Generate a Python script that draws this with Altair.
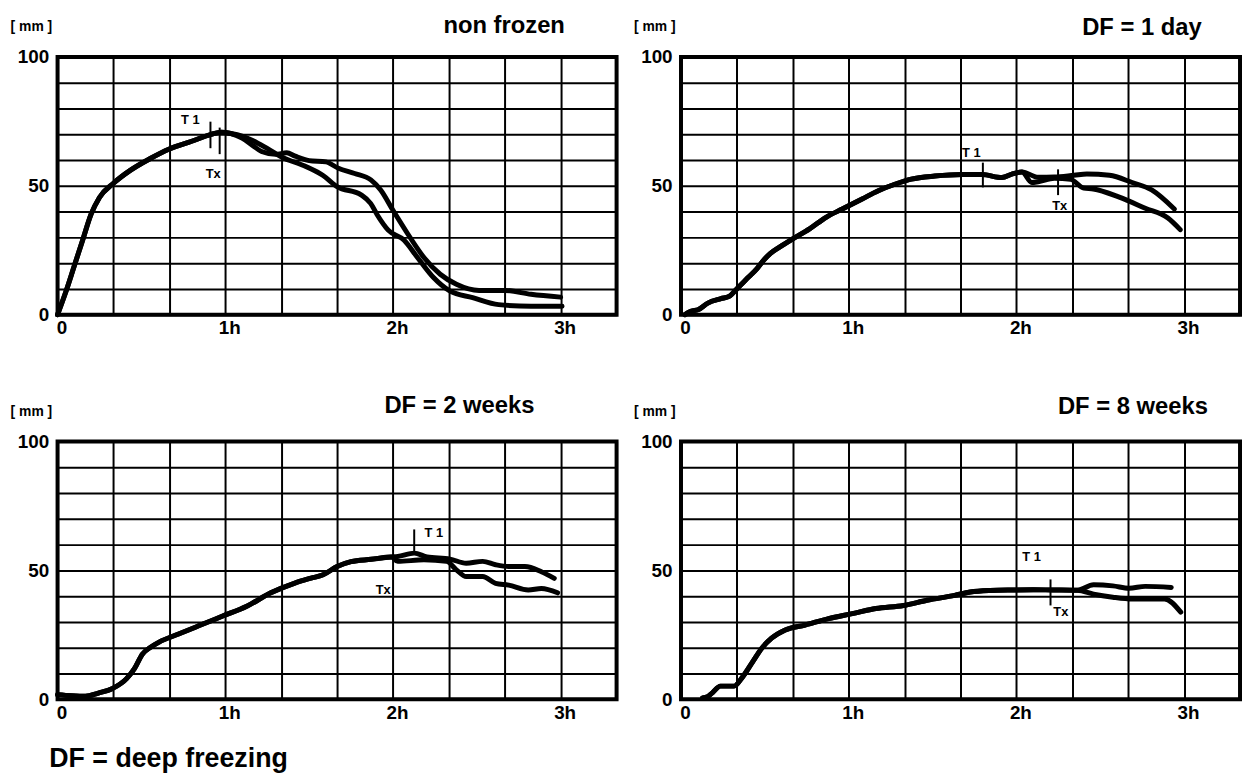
import altair as alt
import pandas as pd

FONT = "Liberation Sans"
W, H = 564, 260

# grid positions: x in minutes (every 20 min), y in mm (every 10 mm)
X_GRID = list(range(0, 201, 20))
Y_GRID = list(range(0, 101, 10))

# ---------------- Panel 1: non frozen ----------------
P1_SHARED_T = [0, 3, 6, 9, 12, 15, 20, 26, 33, 40, 48, 55, 58.5]
P1_SHARED_V = [0, 9, 19, 29, 39, 45.5, 51, 56, 60.5, 64.3, 67.3, 70, 70.8]
P1_A_T = [62, 66, 70, 73, 78, 82, 85, 90, 96, 100.5, 106.3, 112.1, 115.6, 120, 125.2, 131, 136.9, 142.7, 150.8, 160.1, 169.4, 180]
P1_A_V = [70.3, 68.5, 65.5, 63.3, 62.2, 62.8, 61.5, 59.8, 59.3, 56.8, 54.8, 52.3, 48.4, 40.5, 31.5, 22.3, 15.7, 11.8, 9.4, 9.4, 7.9, 6.8]
P1_B_T = [62, 66, 70, 75, 80, 89, 95, 100, 108.6, 112, 114.4, 118.3, 124, 128.7, 134.5, 140.3, 148.5, 157.8, 169.4, 180.5]
P1_B_V = [70.3, 69.3, 67.5, 64.5, 61.3, 57.4, 54, 49.7, 46.5, 43.2, 38.7, 32.8, 28.9, 22.3, 14.4, 9.2, 6.6, 3.9, 3.3, 3.3]

# ---------------- Panel 2: DF = 1 day ----------------
P2_SHARED_T = [1.4, 3.5, 6.1, 9.6, 14.3, 17.2, 20.2, 23.7, 27.2, 29.6, 31.9, 35.4, 40.1, 46, 51.9, 57.7, 64.8, 70.6, 76.5, 82.4, 90.8, 100.7, 107.7, 114.8, 118.6, 122]
P2_SHARED_V = [0, 1.3, 1.9, 4.5, 6.2, 7.1, 10.3, 14.1, 17.9, 21.2, 23.7, 26.3, 29.5, 33.3, 37.8, 41, 44.9, 48.1, 50.6, 52.6, 53.8, 54.4, 54.4, 53.2, 54.6, 55.4]
P2_A_T = [127.8, 133.6, 140.6, 145.2, 153.3, 161.4, 168.4, 176.5]
P2_A_V = [53.3, 53.4, 54.1, 54.6, 54.1, 51.3, 48.4, 41]
P2_B_T = [125.5, 127.8, 133.6, 139.4, 144.1, 147.5, 156.8, 166.1, 174.2, 178.6]
P2_B_V = [51.3, 51.6, 52.9, 52.5, 49.1, 48.8, 45.6, 41.3, 37.5, 33]

# ---------------- Panel 3: DF = 2 weeks ----------------
P3_SHARED_T = [0, 5, 10, 14.6, 19.7, 24.7, 27.5, 30.4, 33.3, 36.2, 43.3, 50.5, 59.1, 67.7, 76.3, 84.9, 90.7, 95, 100, 105, 112.2, 119.4]
P3_SHARED_V = [1.8, 1.4, 1.2, 2.4, 4.2, 8.0, 11.9, 17.6, 20.2, 22.1, 25.3, 28.5, 32.3, 36.1, 41.3, 45.1, 47, 48.3, 51.5, 53.4, 54.3, 55.2]
P3_A_T = [121.7, 127.6, 132.2, 140.4, 146.2, 152.1, 156.7, 161.4, 167.2, 173.1, 177.7]
P3_A_V = [55.4, 56.7, 55.2, 54.4, 52.8, 53.5, 52.2, 51.5, 51.5, 49.5, 46.9]
P3_B_T = [121.7, 131.1, 139.2, 142.7, 146.2, 152.1, 156.7, 161.4, 168.4, 173.1, 178.9]
P3_B_V = [53.5, 54.1, 53.5, 50.2, 47.6, 47.6, 45, 44.3, 42.4, 43, 41.3]

# ---------------- Panel 4: DF = 8 weeks ----------------
P4_SHARED_T = [7.7, 9.5, 11.3, 14.1, 19, 21.8, 25.4, 28.9, 32.4, 37.3, 44.4, 52.8, 61.3, 69.7, 79.6, 88, 97.9, 103.5, 110.6, 119, 126, 133, 141.8]
P4_SHARED_V = [0.5, 1, 2.6, 5.1, 5.1, 8.3, 14.1, 19.8, 23.7, 26.9, 28.8, 31.3, 33.2, 35.2, 36.4, 38.4, 40.3, 41.6, 42.2, 42.4, 42.5, 42.4, 42.3]
P4_A_T = [147.6, 154.5, 160.3, 166.1, 175.4]
P4_A_V = [44.4, 44, 43.1, 43.8, 43.4]
P4_B_T = [147.6, 154.5, 161.5, 173, 178.8]
P4_B_V = [40.8, 39.6, 38.9, 38.9, 33.8]

# panel titles, and the T1 / Tx marks: tick (t, v_low, v_high), labels (t, v, text)
TITLES = ["non frozen", "DF = 1 day", "DF = 2 weeks", "DF = 8 weeks"]
TITLE_POS = [(181.5, 109.3), (186.3, 108.6), (170.6, 110.9), (188.5, 110.6)]
TICKS = [
    [(54.7, 64.6, 74.9), (58.0, 62.3, 72.6)],
    [(108.0, 49.4, 59.0), (134.9, 46.4, 56.4)],
    [(127.6, 56.7, 65.9)],
    [(132.2, 36.4, 46.5)],
]
MARK_LABELS = [
    [(47.5, 75.5, "T 1"), (55.7, 54.6, "Tx")],
    [(103.9, 62.8, "T 1"), (135.5, 42.3, "Tx")],
    [(134.6, 64.6, "T 1"), (116.5, 42.5, "Tx")],
    [(125.4, 55.0, "T 1"), (135.9, 33.9, "Tx")],
]
UNIT_LABEL = "[ mm ]"
UNIT_POS = (-16.8, 111.5)
FOOTNOTE = "DF = deep freezing"

PANELS = [
    (P1_SHARED_T, P1_SHARED_V, P1_A_T, P1_A_V, P1_B_T, P1_B_V),
    (P2_SHARED_T, P2_SHARED_V, P2_A_T, P2_A_V, P2_B_T, P2_B_V),
    (P3_SHARED_T, P3_SHARED_V, P3_A_T, P3_A_V, P3_B_T, P3_B_V),
    (P4_SHARED_T, P4_SHARED_V, P4_A_T, P4_A_V, P4_B_T, P4_B_V),
]

X_LABELS = "datum.value == 0 ? '0' : (datum.value % 60 == 0 ? (datum.value / 60) + 'h' : '')"
Y_LABELS = "datum.value % 50 == 0 ? datum.label : ''"

X_ENC = alt.X("t:Q", title=None,
              scale=alt.Scale(domain=[0, 200], nice=False, zero=False),
              axis=alt.Axis(values=X_GRID, labelExpr=X_LABELS, labelPadding=4,
                            labelOffset=4, labelFlush=False))
Y_ENC = alt.Y("v:Q", title=None,
              scale=alt.Scale(domain=[0, 100], nice=False, zero=False),
              axis=alt.Axis(values=Y_GRID, labelExpr=Y_LABELS, labelPadding=9,
                            labelFlush=False))


def make_panel(i):
    st, sv, at, av, bt, bv = PANELS[i]
    rows = []
    for name, ts, vs in (("A", st + at, sv + av), ("B", st + bt, sv + bv)):
        for k, (t, v) in enumerate(zip(ts, vs)):
            rows.append({"series": name, "order": k, "t": t, "v": v})
    curves = alt.Chart(pd.DataFrame(rows)).mark_line(
        color="black", strokeWidth=5, interpolate="monotone",
        strokeCap="round", strokeJoin="round"
    ).encode(x=X_ENC, y=Y_ENC, detail="series:N", order="order:Q")

    tick_df = pd.DataFrame([{"t": t, "v": lo, "v2": hi} for t, lo, hi in TICKS[i]])
    ticks = alt.Chart(tick_df).mark_rule(color="black", strokeWidth=2).encode(
        x=X_ENC, y=Y_ENC, y2="v2:Q")

    lab_df = pd.DataFrame([{"t": t, "v": v, "txt": s} for t, v, s in MARK_LABELS[i]])
    labels = alt.Chart(lab_df).mark_text(
        font=FONT, fontWeight="bold", fontSize=13, color="black",
        align="center", baseline="middle"
    ).encode(x=X_ENC, y=Y_ENC, text="txt:N")

    tt, tv = TITLE_POS[i]
    title_df = pd.DataFrame([{"t": tt, "v": tv, "txt": TITLES[i]}])
    title = alt.Chart(title_df).mark_text(
        font=FONT, fontWeight="bold", fontSize=24, color="black",
        align="right", baseline="alphabetic"
    ).encode(x=X_ENC, y=Y_ENC, text="txt:N")

    unit_df = pd.DataFrame([{"t": UNIT_POS[0], "v": UNIT_POS[1], "txt": UNIT_LABEL}])
    unit = alt.Chart(unit_df).mark_text(
        font=FONT, fontWeight="bold", fontSize=14, color="black",
        align="left", baseline="middle"
    ).encode(x=X_ENC, y=Y_ENC, text="txt:N")

    return alt.layer(curves, ticks, labels, title, unit).properties(width=W, height=H)


top = alt.hconcat(make_panel(0), make_panel(1), spacing=13)
bottom = alt.hconcat(make_panel(2), make_panel(3), spacing=13)

chart = alt.vconcat(top, bottom, spacing=53).properties(
    title=alt.TitleParams(FOOTNOTE, orient="bottom", anchor="start", font=FONT,
                          fontSize=27, fontWeight="bold", color="black",
                          dx=41, offset=22),
    padding={"left": 0, "top": 0, "right": 0, "bottom": 0},
).configure_view(
    stroke="black", strokeWidth=4
).configure_axis(
    grid=True, gridColor="black", gridWidth=2, gridOpacity=1,
    domain=False, ticks=False,
    labelFont=FONT, labelFontSize=19, labelFontWeight="bold", labelColor="black",
)

chart.save("out.html", embed_options={"renderer": "svg", "actions": False})
